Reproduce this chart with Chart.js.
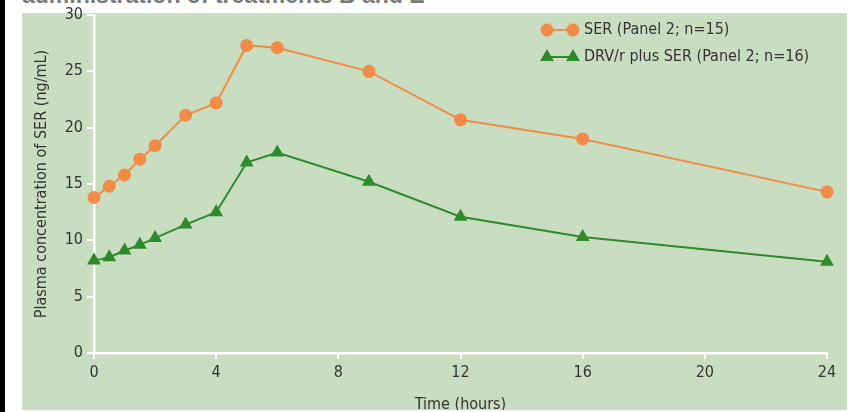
<!DOCTYPE html>
<html>
<head>
<meta charset="utf-8">
<script src="https://cdn.jsdelivr.net/npm/chart.js@4.4.1/dist/chart.umd.min.js"></script>
<style>
  html, body { margin: 0; padding: 0; background: #fff; }
  body { width: 850px; height: 412px; position: relative; overflow: hidden; }
  #strip { position: absolute; left: 0; top: 0; width: 5px; height: 412px; background: #000; }
  #title { position: absolute; left: 22px; top: -16px; font: bold 23px 'Liberation Sans', Arial, sans-serif;
           color: #7a7a7a; white-space: nowrap; line-height: 1; }
  #panel { position: absolute; left: 22px; top: 13px; width: 825px; height: 397px; background: #c9ddc1; }
  #wrap { position: absolute; left: 0; top: 0; width: 850px; height: 410px; overflow: hidden; }
  #chart { position: absolute; left: 0; top: 0; }
</style>
</head>
<body>
<div id="strip"></div>
<div id="title">administration of treatments B and E</div>
<div id="panel"></div>
<div id="wrap"><canvas id="chart" width="850" height="412"></canvas></div>
<script>
// Time points (hours) and mean plasma SER concentrations (ng/mL)
const hours = [0, 0.5, 1, 1.5, 2, 3, 4, 5, 6, 9, 12, 16, 24]
const serAlone = [13.8, 14.8, 15.8, 17.2, 18.4, 21.1, 22.2, 27.3, 27.1, 25.0, 20.7, 19.0, 14.3]
const drvPlusSer = [8.2, 8.5, 9.1, 9.6, 10.2, 11.4, 12.5, 16.9, 17.8, 15.2, 12.1, 10.3, 8.1]
const seriesNames = ['SER (Panel 2; n=15)', 'DRV/r plus SER (Panel 2; n=16)']
const xTicks = [0, 4, 8, 12, 16, 20, 24]
const yTicks = [0, 5, 10, 15, 20, 25, 30]

const ORANGE = '#f28a48'
const GREEN = '#2e8b2a'
const TEXT = '#333333'
const FONT = "'Liberation Sans Narrow', 'DejaVu Sans Condensed', 'Arial Narrow', sans-serif"

const toXY = vals => vals.map((v, i) => ({ x: hours[i], y: v }))

// Legend with a marker at each end of a short line
const lineLegend = {
  id: 'lineLegend',
  afterDraw(chart) {
    const c = chart.ctx
    const rows = [30, 57]
    chart.data.datasets.forEach((ds, i) => {
      const y = rows[i]
      c.save()
      c.strokeStyle = ds.borderColor
      c.lineWidth = 2
      c.beginPath()
      c.moveTo(547, y)
      c.lineTo(573, y)
      c.stroke()
      const opts = { pointStyle: ds.pointStyle, radius: ds.pointRadius, rotation: 0, borderWidth: 0 }
      c.fillStyle = ds.pointBackgroundColor
      Chart.helpers.drawPoint(c, opts, 547, y)
      Chart.helpers.drawPoint(c, opts, 573, y)
      c.fillStyle = TEXT
      c.font = '16px ' + FONT
      c.textBaseline = 'middle'
      c.textAlign = 'left'
      c.fillText(seriesNames[i], 584, y)
      c.restore()
    })
  },
}

new Chart(document.getElementById('chart'), {
  type: 'line',
  data: {
    datasets: [
      {
        label: seriesNames[0],
        data: toXY(serAlone),
        borderColor: ORANGE,
        backgroundColor: ORANGE,
        pointBackgroundColor: ORANGE,
        pointBorderWidth: 0,
        pointStyle: 'circle',
        pointRadius: 6.5,
        borderWidth: 2,
        clip: false,
      },
      {
        label: seriesNames[1],
        data: toXY(drvPlusSer),
        borderColor: GREEN,
        backgroundColor: GREEN,
        pointBackgroundColor: GREEN,
        pointBorderWidth: 0,
        pointStyle: 'triangle',
        pointRadius: 8,
        borderWidth: 2,
        clip: false,
      },
    ],
  },
  plugins: [lineLegend],
  options: {
    responsive: false,
    animation: false,
    devicePixelRatio: 1,
    layout: { padding: { top: 15, right: 23, left: 0, bottom: 0 } },
    plugins: {
      legend: { display: false },
      tooltip: { enabled: false },
    },
    scales: {
      x: {
        type: 'linear',
        min: 0,
        max: 24,
        afterFit: s => { s.height = 59 },
        afterBuildTicks: s => { s.ticks = xTicks.map(v => ({ value: v })) },
        border: { color: '#ffffff', width: 2.5 },
        grid: { drawOnChartArea: false, color: '#ffffff', lineWidth: 2, tickLength: 6 },
        ticks: { color: TEXT, font: { family: FONT, size: 16 }, padding: 4, maxRotation: 0 },
        title: {
          display: true,
          text: 'Time (hours)',
          color: TEXT,
          font: { family: FONT, size: 16, lineHeight: 1 },
          padding: { top: 0, bottom: -1 },
        },
      },
      y: {
        min: 0,
        max: 30,
        afterFit: s => { s.width = 94 },
        afterBuildTicks: s => { s.ticks = yTicks.map(v => ({ value: v })) },
        border: { color: '#ffffff', width: 2.5 },
        grid: { drawOnChartArea: false, color: '#ffffff', lineWidth: 2, tickLength: 7 },
        ticks: { color: TEXT, font: { family: FONT, size: 16 }, padding: 4 },
        title: {
          display: true,
          text: 'Plasma concentration of SER (ng/mL)',
          color: TEXT,
          font: { family: FONT, size: 16, lineHeight: 1 },
          padding: { top: 34, bottom: 0 },
        },
      },
    },
  },
})
</script>
</body>
</html>
